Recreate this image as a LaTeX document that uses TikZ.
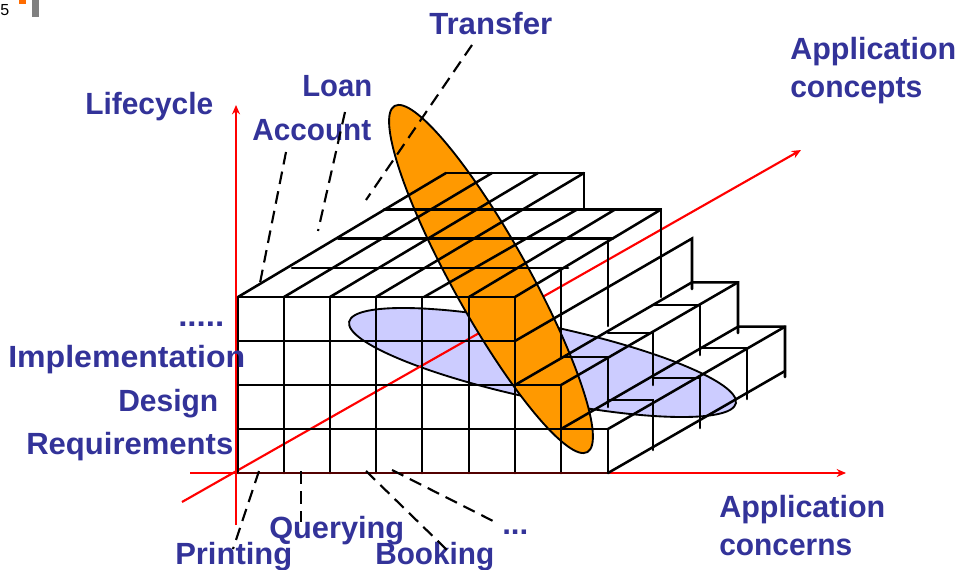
\documentclass[tikz,border=0pt]{standalone}
\usepackage{fontspec}
\usepackage{graphicx}
\setmainfont{Liberation Sans}
\usetikzlibrary{arrows.meta}
\definecolor{labelblue}{HTML}{333399}
\definecolor{orangefill}{HTML}{FF9900}
\definecolor{lilac}{HTML}{CCCCFF}
\newcommand{\fitw}[2]{\resizebox{0.75\dimexpr#1pt\relax}{\height}{#2}}
\tikzset{
  lab/.style={anchor=base west,inner sep=0pt,text=labelblue,font=\fontsize{23}{27}\selectfont\bfseries},
  axis/.style={draw=red,line width=1.6pt,-{Stealth[length=7pt,width=6pt]}},
  gridline/.style={draw=black,line width=1.9pt,line cap=round},
  leader/.style={draw=black,line width=1.6pt,dash pattern=on 9.5pt off 5.5pt},
  blob/.style={draw=black,line width=1.4pt}
}
\begin{document}
\begin{tikzpicture}[x=0.75pt,y=-0.75pt]
\useasboundingbox (0,0) rectangle (959,570);
% corner fragments
\node[anchor=base west,inner sep=0pt,font=\fontsize{12}{14}\selectfont,text=black] (pageno) at (0,16) {5};
\fill[fill=orange!85!red] (19,0) rectangle (26,4);
\fill[fill=black!50] (32,0) rectangle (39,17);
% purple ellipse
\draw[blob,fill=lilac,shift={(542.5,362.5)},rotate=-11.9] (0,0) ellipse [x radius=197.6,y radius=37];
% axes
\coordinate (hs) at (190,473); \coordinate (he) at (846,473);
\coordinate (vs) at (236,525); \coordinate (ve) at (236,105);
\coordinate (ds) at (182,502); \coordinate (de) at (801,150);
\draw[axis] (hs) -- (he);
\draw[axis] (vs) -- (ve);
\draw[axis] (ds) -- (de);
% orange ellipse
\draw[blob,fill=orangefill,shift={(491,279)},rotate=-60.9] (0,0) ellipse [x radius=198.1,y radius=38];
% front grid
\foreach \x in {238,284,330,376,422,469,515} \draw[gridline] (\x,297) -- (\x,473);
\draw[gridline] (561,385) -- (561,473);
\draw[gridline] (608,429) -- (608,473);
\draw[gridline] (238,297) -- (515,297);
\draw[gridline] (238,341) -- (515,341);
\draw[gridline] (238,385) -- (561,385);
\draw[gridline] (238,429) -- (608,429);
\draw[draw=black!60!red!80!black,line width=1.9pt] (238,473) -- (608,473);
% top surface: depth rows
\draw[gridline] (446,173) -- (584,173) -- (584,209.5);
\draw[gridline] (384,209.5) -- (661,209.5) -- (661,297);
\draw[gridline] (338,238.5) -- (613,238.5);
\draw[gridline] (608,238.5) -- (608,326);
\draw[gridline] (292,268) -- (568,268);
\draw[gridline] (561,268) -- (561,357);
% top surface: diagonals
\draw[gridline] (238,297) -- (446,173);
\draw[gridline] (284,297) -- (492,173);
\draw[gridline] (330,297) -- (538,173);
\draw[gridline] (376,297) -- (584,173);
\draw[gridline] (424,297) -- (577,209.5);
\draw[gridline] (469,297) -- (615,209.5);
\draw[gridline] (515,297) -- (661,209.5);
% stepped right part
\draw[gridline] (515,341) -- (692,238.5) -- (692,289);
\draw[gridline] (515,385) -- (692,282.3) -- (738,282.3) -- (738,333);
\draw[gridline] (561,385) -- (738,282.3);
\draw[gridline] (653,305) -- (700,305) -- (700,355);
\draw[gridline] (561,357) -- (608,357) -- (608,407);
\draw[gridline] (608,333) -- (653,333) -- (653,385);
\draw[gridline] (561,429) -- (738,326.7) -- (785,326.7) -- (785,377);
\draw[gridline] (608,429) -- (785,326.7);
\draw[gridline] (608,473) -- (785,371);
\draw[gridline] (608,400) -- (653,400) -- (653,450);
\draw[gridline] (653,378) -- (700,378) -- (700,428);
\draw[gridline] (700,348) -- (747,348) -- (747,399);
% labels
\node[lab] (transfer) at (429,35) {\fitw{123}{Transfer}};
\node[lab] (appconcepts) at (790,60) {\fitw{166}{Application}};
\node[lab] (concepts) at (790,98) {\fitw{132}{concepts}};
\node[lab] (loan) at (302,97) {\fitw{70}{Loan}};
\node[lab] (lifecycle) at (85,115) {\fitw{128}{Lifecycle}};
\node[lab] (account) at (252,141) {\fitw{119}{Account}};
\node[lab] (dots) at (178,326) {\fitw{46}{.....}};
\node[lab] (impl) at (8,367) {\fitw{237}{Implementation}};
\node[lab] (design) at (118,411) {\fitw{100}{Design}};
\node[lab] (req) at (26,454) {\fitw{207}{Requirements}};
\node[lab] (appconcerns) at (719,517) {\fitw{166}{Application}};
\node[lab] (concerns) at (719,555) {\fitw{133}{concerns}};
\node[lab] (more) at (502,534) {\fitw{26}{...}};
\node[lab] (querying) at (269,538) {\fitw{135}{Querying}};
\node[lab] (printing) at (175,564) {\fitw{117}{Printing}};
\node[lab] (booking) at (375,564) {\fitw{119}{Booking}};
% dashed leaders
\coordinate (a1) at (286,152); \coordinate (a2) at (260,283);
\coordinate (l1) at (345,112); \coordinate (l2) at (318,231);
\coordinate (t1) at (472,45);  \coordinate (t2) at (366,200);
\coordinate (p1) at (259,471); \coordinate (p2) at (233,549);
\coordinate (q1) at (301,471); \coordinate (q2) at (301,522);
\coordinate (b1) at (366,471); \coordinate (b2) at (447,550);
\coordinate (m1) at (392,470); \coordinate (m2) at (497,523);
\draw[leader] (a1) -- (a2);
\draw[leader] (l1) -- (l2);
\draw[leader] (t1) -- (t2);
\draw[leader] (p1) -- (p2);
\draw[leader] (q1) -- (q2);
\draw[leader] (b1) -- (b2);
\draw[leader] (m1) -- (m2);
\end{tikzpicture}
\end{document}
